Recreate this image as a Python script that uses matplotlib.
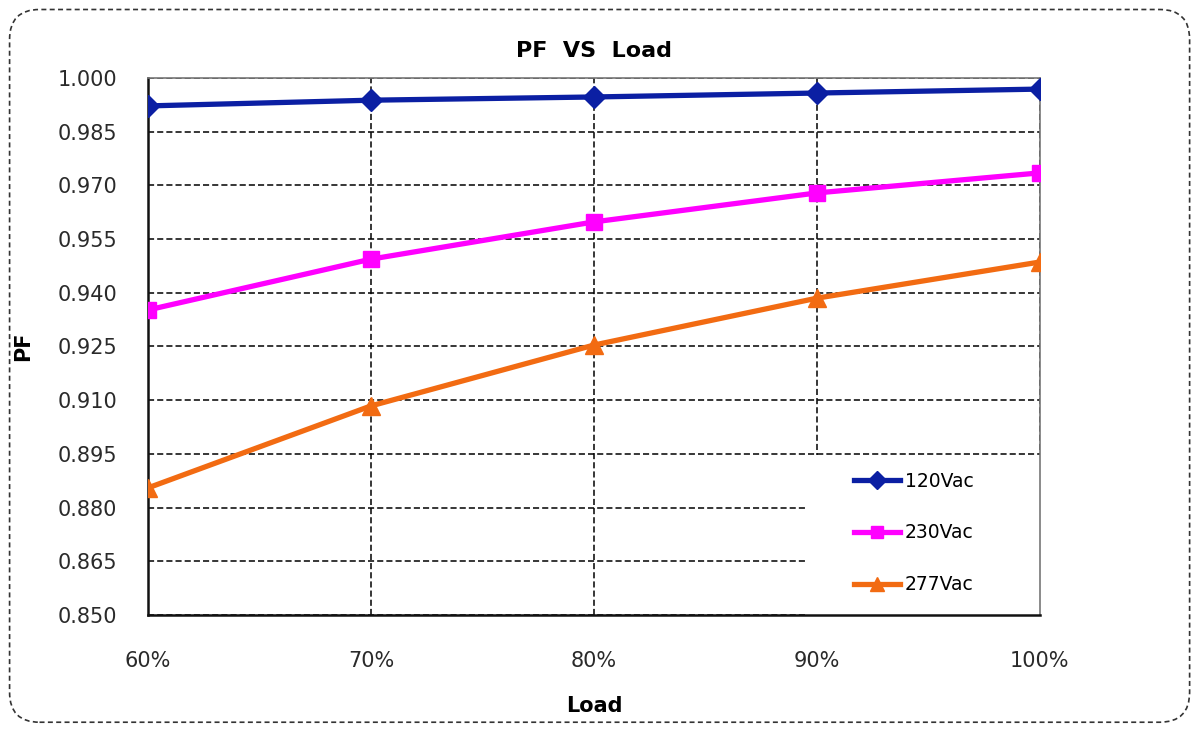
import numpy as np
import matplotlib
matplotlib.use("Agg")
import matplotlib.pyplot as plt
from matplotlib.patches import FancyBboxPatch, Rectangle

# data
loads = ["60%", "70%", "80%", "90%", "100%"]
pf_120 = [0.9922, 0.9938, 0.9947, 0.9958, 0.9969]
pf_230 = [0.9352, 0.9494, 0.9598, 0.9679, 0.9735]
pf_277 = [0.8855, 0.9084, 0.9254, 0.9385, 0.9486]
y_ticks = [0.850, 0.865, 0.880, 0.895, 0.910, 0.925, 0.940, 0.955, 0.970, 0.985, 1.000]

plt.rcParams["font.family"] = ["DejaVu Sans"]

fig = plt.figure(figsize=(11.98, 7.31), dpi=100)
ax = fig.add_axes([0.1235, 0.1587, 0.7445, 0.7346])

# dashed rounded frame around the whole chart
frame = FancyBboxPatch((0.008, 0.012), 0.985, 0.975,
                       boxstyle="round,pad=0,rounding_size=0.025",
                       transform=fig.transFigure, fill=False,
                       edgecolor="#333333", linestyle=(0, (3, 2)), linewidth=1.2,
                       mutation_aspect=1198 / 731)
fig.patches.append(frame)

x = np.arange(len(loads))
ax.plot(x, pf_120, color="#0B1FA3", lw=3.8, marker="D", ms=11, label="120Vac", zorder=5)
ax.plot(x, pf_230, color="#FF00FF", lw=3.8, marker="s", ms=11, label="230Vac", zorder=5)
ax.plot(x, pf_277, color="#F26B12", lw=3.8, marker="^", ms=13, label="277Vac", zorder=5)

ax.set_xlim(0, len(loads) - 1)
ax.set_ylim(0.850, 1.000)
ax.set_xticks(x)
ax.set_xticklabels(loads)
ax.set_yticks(y_ticks)
ax.set_yticklabels([f"{v:.3f}" for v in y_ticks])
ax.tick_params(axis="both", length=0, labelsize=15, colors="#2a2a2a")
ax.tick_params(axis="x", pad=26)
ax.tick_params(axis="y", pad=22)

ax.grid(True, color="black", linestyle=(0, (4, 2)), linewidth=1.1)
ax.set_axisbelow(True)

for side in ["left", "bottom"]:
    ax.spines[side].set_linewidth(1.8)
    ax.spines[side].set_color("#111111")
    ax.spines[side].set_zorder(4)
for side in ["top", "right"]:
    ax.spines[side].set_linewidth(1.2)
    ax.spines[side].set_color("#777777")
    ax.spines[side].set_zorder(4)

ax.set_title("PF  VS  Load", fontsize=16, fontweight="bold", pad=15)
ax.set_xlabel("Load", fontsize=15, fontweight="bold", labelpad=18)
ax.set_ylabel("PF", fontsize=15, fontweight="bold", labelpad=18)

# white patch behind the legend, hiding the gridlines there
ax.add_patch(Rectangle((0.7365, 0.0), 0.2635, 0.298, transform=ax.transAxes,
                       facecolor="white", edgecolor="none", zorder=1))

leg = ax.legend(loc="center left", bbox_to_anchor=(0.792, 0.153), fontsize=13.5,
                frameon=False, borderaxespad=0, borderpad=0, labelspacing=1.75,
                handlelength=2.45, handletextpad=0.25, markerscale=0.8)
leg.set_zorder(6)

fig.savefig("out.png", dpi=100)
